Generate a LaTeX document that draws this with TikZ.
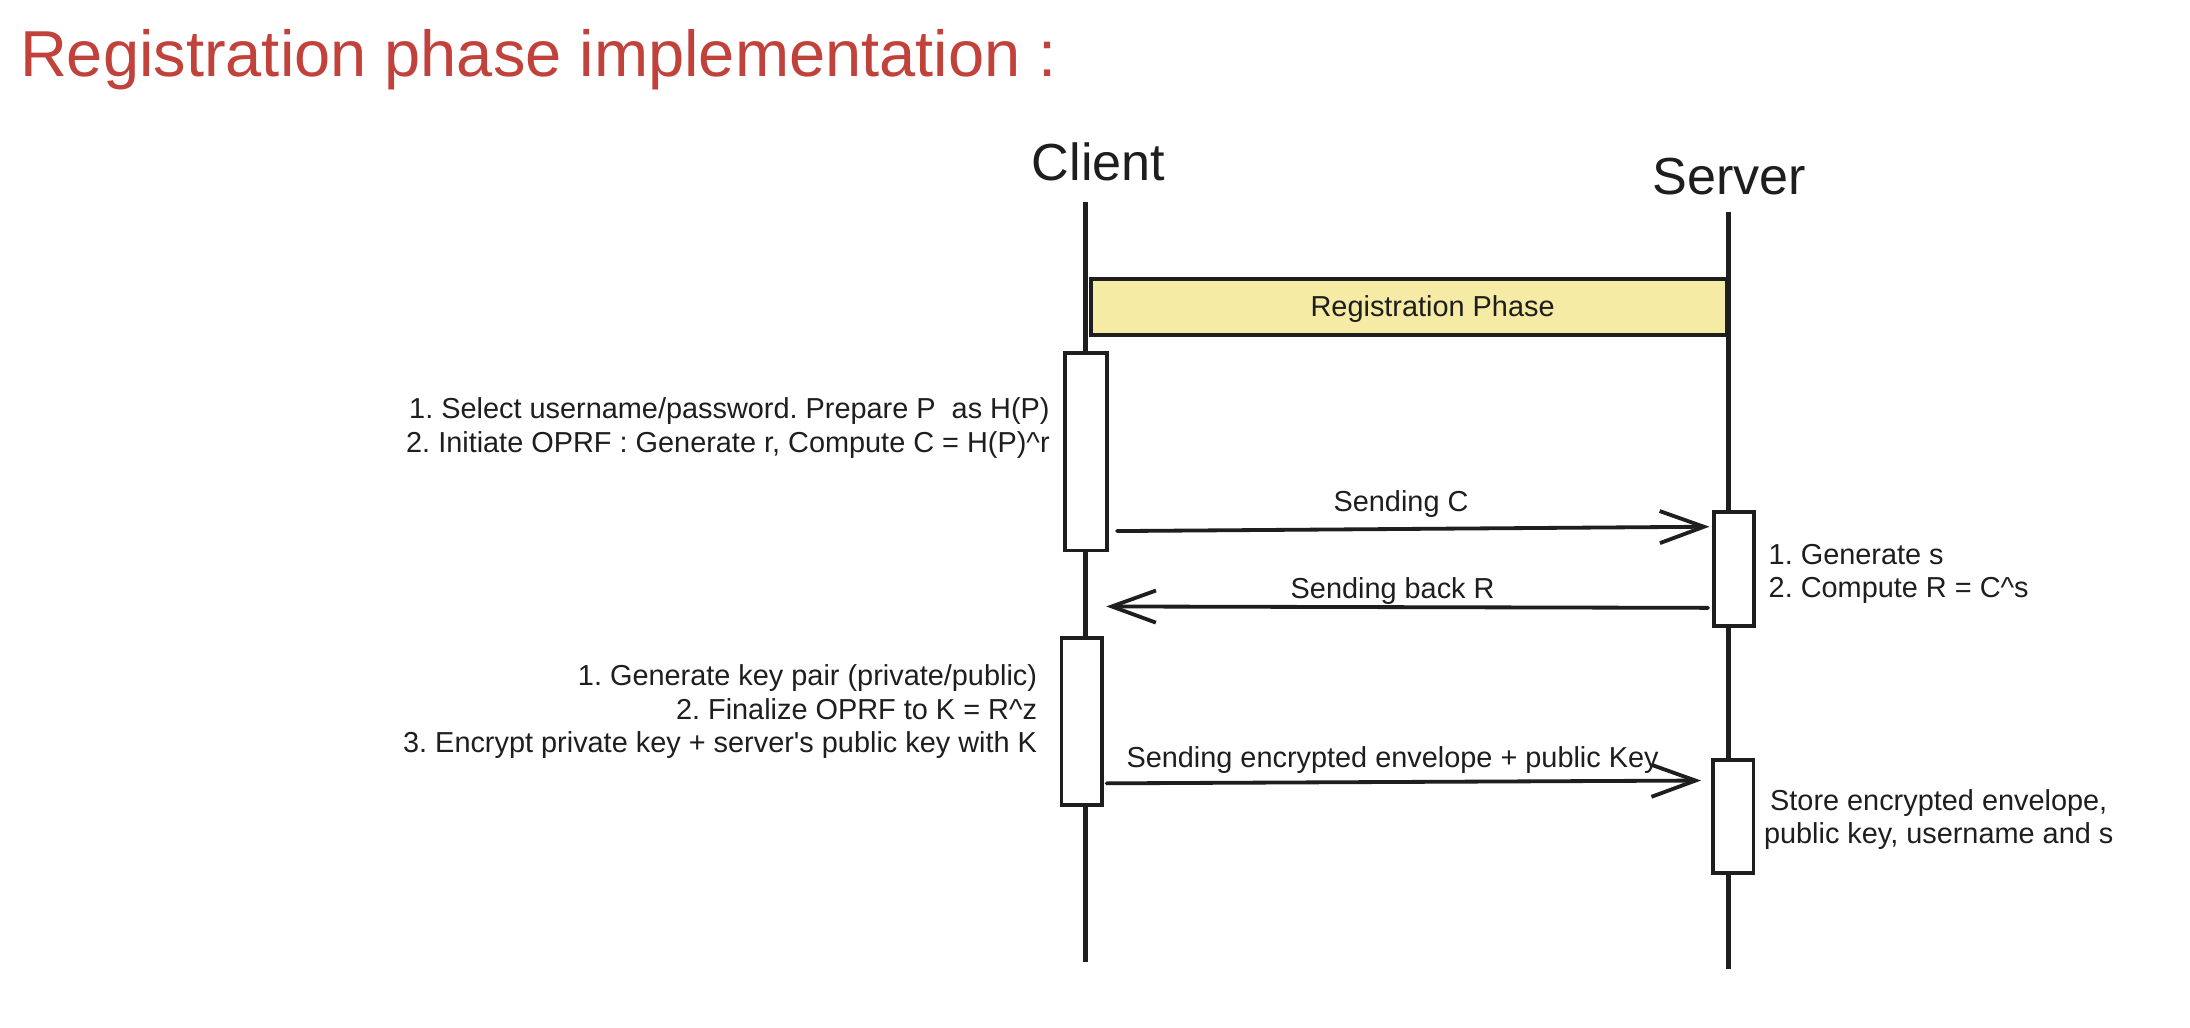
\documentclass[tikz,border=0pt]{standalone}
\usepackage{fontspec}
\setmainfont{Liberation Sans}
\usetikzlibrary{arrows.meta,calc,fit}
\definecolor{ink}{HTML}{1E1E1E}
\definecolor{titlered}{HTML}{C1413B}
\definecolor{phasefill}{HTML}{F6EBA4}
\frenchspacing
\begin{document}
\begin{tikzpicture}[x=0.7pt,y=-0.7pt,
  txt/.style={font=\fontsize{14.4pt}{16.6pt}\selectfont, text=ink, inner sep=0pt},
  actor/.style={font=\fontsize{26pt}{30pt}\selectfont, text=ink, inner sep=0pt},
  life/.style={draw=ink, line width=2.5pt},
  actbox/.style={draw=ink, line width=1.8pt, fill=white, inner sep=0pt},
  phasebox/.style={draw=ink, line width=1.8pt, fill=phasefill, inner sep=0pt},
  msg/.style={draw=ink, line width=1.9pt, line cap=round, -{Straight Barb[length=22pt,width=16pt]}},
]
\useasboundingbox (0,0) rectangle (1560,732);
\fill[white] (0,0) rectangle (1560,732);

% title
\node[font=\fontsize{32.4pt}{36pt}\selectfont, text=titlered, inner sep=0pt, anchor=base west] (title) at (14,54.6) {Registration phase implementation :};

% actors
\node[actor] (client) at (782.5,115) {Client};
\node[actor] (server) at (1232,125.5) {Server};

% lifelines
\coordinate (clTop) at (773,144);
\coordinate (clBot) at (773,685);
\coordinate (svTop) at (1231,151);
\coordinate (svBot) at (1231,690);
\draw[life] (clTop) -- (clBot);
\draw[life] (svTop) -- (svBot);

% phase box
\node[phasebox, fit={(777,198.7) (1230,238.6)}] (phase) {};
\node[txt] (phaselbl) at ($(phase.center)+(17,1.5)$) {Registration Phase};

% activation boxes
\node[actbox, fit={(758.6,251.6) (788.4,392)}] (a1) {};
\node[actbox, fit={(1221,364.5) (1249.5,446)}] (s1) {};
\node[actbox, fit={(756,454.6) (785,573.5)}] (a2) {};
\node[actbox, fit={(1220,541.5) (1249,622)}] (s2) {};

% notes (base anchor = baseline of last line)
\node[txt, align=right, anchor=base east] (n1) at (748,322)
  {1. Select username/password. Prepare P\ \ as H(P)\\2. Initiate OPRF : Generate r, Compute C = H(P)\^{}r};
\node[txt, align=left, anchor=base west] (n2) at (1259.6,425.5)
  {1. Generate s\\2. Compute R = C\^{}s};
\node[txt, align=right, anchor=base east] (n3) at (739,536)
  {1. Generate key pair (private/public)\\2. Finalize OPRF to K = R\^{}z\\3. Encrypt private key + server\textquotesingle s public key with K};
\node[txt, align=center, anchor=base] (n4) at (1381,601)
  {Store encrypted envelope,\\public key, username and s};

% messages
\coordinate (m1s) at ($(a1.east |- 0,378.3)+(6,0)$);
\coordinate (m1e) at ($(s1.west |- 0,375.2)+(-2,0)$);
\draw[msg] (m1s) -- (m1e);
\node[txt, anchor=base] (l1) at (998,364.5) {Sending C};

\coordinate (m2s) at ($(s1.west |- 0,433)+(-3,0)$);
\coordinate (m2e) at ($(clTop |- 0,432)+(15,0)$);
\draw[msg] (m2s) -- (m2e);
\node[txt, anchor=base] (l2) at (992,426) {Sending back R};

\coordinate (m3s) at ($(a2.east |- 0,558)+(2,0)$);
\coordinate (m3e) at ($(s2.west |- 0,556)+(-7,0)$);
\draw[msg] (m3s) -- (m3e);
\node[txt, anchor=base] (l3) at (992,547) {Sending encrypted envelope + public Key};
\end{tikzpicture}
\end{document}
